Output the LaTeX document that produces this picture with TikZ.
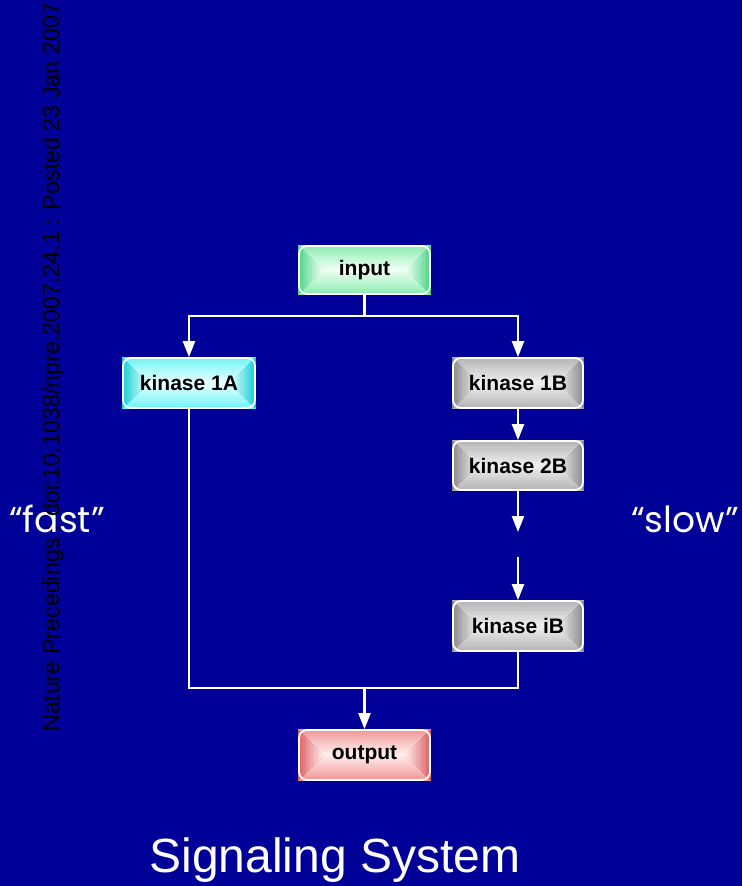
\documentclass[tikz,border=0pt]{standalone}
\usepackage{fontspec}
\setmainfont{Liberation Sans}
\newfontfamily\casualfont{Poppins}
\usetikzlibrary{arrows.meta}

\definecolor{bgblue}{RGB}{0,0,153}
\definecolor{greenside}{RGB}{78,212,136}
\definecolor{greencap}{RGB}{140,236,176}
\definecolor{greenmid}{RGB}{236,255,242}
\definecolor{cyanside}{RGB}{20,206,212}
\definecolor{cyancap}{RGB}{110,244,244}
\definecolor{cyanmid}{RGB}{232,255,255}
\definecolor{grayside}{RGB}{138,138,138}
\definecolor{graycap}{RGB}{180,180,180}
\definecolor{graymid}{RGB}{238,238,238}
\definecolor{redside}{RGB}{222,96,100}
\definecolor{redcap}{RGB}{240,150,150}
\definecolor{redmid}{RGB}{255,236,236}

% #1 name, #2 cx, #3 cy, #4 width, #5 height,
% #6 side colour, #7 top/bottom colour, #8 centre colour, #9 text
\newcommand\gradbox[9]{%
  \pgfmathsetmacro\gbl{#2-#4/2}%
  \pgfmathsetmacro\gbr{#2+#4/2}%
  \pgfmathsetmacro\gbt{#3-#5/2}%
  \pgfmathsetmacro\gbb{#3+#5/2}%
  \pgfmathsetmacro\gbh{#5/2}%
  % top and bottom faces of the bevel
  \foreach \i in {0,...,15}{%
    \pgfmathsetmacro\gbd{\i*#5/32}%
    \pgfmathtruncatemacro\gbp{round(100*\i/15)}%
    \fill[#8!\gbp!#7] (\gbl+\gbd,\gbt+\gbd) rectangle (\gbr-\gbd,\gbb-\gbd);
  }%
  % left and right faces of the bevel
  \begin{scope}
    \clip (\gbl,\gbt) -- (\gbl+\gbh,#3) -- (\gbl,\gbb) -- cycle
          (\gbr,\gbt) -- (\gbr-\gbh,#3) -- (\gbr,\gbb) -- cycle;
    \foreach \i in {0,...,15}{%
      \pgfmathsetmacro\gbd{\i*#5/32}%
      \pgfmathtruncatemacro\gbp{round(100*\i/15)}%
      \fill[#8!\gbp!#6] (\gbl+\gbd,\gbt+\gbd) rectangle (\gbr-\gbd,\gbb-\gbd);
    }%
  \end{scope}
  \node[boxnode, minimum width=#4pt-2pt, minimum height=#5pt-2pt] (#1) at (#2,#3) {#9};
}

\begin{document}
\begin{tikzpicture}[x=1pt,y=-1pt,
  boxnode/.style={draw=white, line width=1.8pt, rounded corners=8pt,
    inner sep=0pt, text=black, font=\bfseries\fontsize{21}{25}\selectfont},
  link/.style={draw=white, line width=2.3pt},
  tip/.style={-{Triangle[length=16pt,width=12pt]}},
  sidenote/.style={anchor=base, text=white, font=\casualfont\fontsize{36}{42}\selectfont},
]
\fill[bgblue] (0,0) rectangle (742,886);
\useasboundingbox (0,0) rectangle (742,886);

% boxes
\gradbox{input}{364.5}{270}{133}{50}{greenside}{greencap}{greenmid}{input}
\gradbox{k1A}{189}{383}{134}{52}{cyanside}{cyancap}{cyanmid}{kinase 1A}
\gradbox{k1B}{518}{383}{132}{52}{grayside}{graycap}{graymid}{kinase 1B}
\gradbox{k2B}{518}{465.5}{132}{51}{grayside}{graycap}{graymid}{kinase 2B}
\gradbox{kiB}{518}{626}{132}{52}{grayside}{graycap}{graymid}{kinase iB}
\gradbox{output}{364.5}{755}{133}{52}{redside}{redcap}{redmid}{output}

% branch points and the gap in the slow chain
\coordinate (split) at (364.5,316);
\coordinate (join) at (364.5,688);
\coordinate (gapA) at (518,532);
\coordinate (gapB) at (518,557);

% connectors
\draw[link] (input.south) -- (split);
\draw[link,tip] (split) -| (k1A.north);
\draw[link,tip] (split) -| (k1B.north);
\draw[link,tip] (k1B.south) -- (k2B.north);
\draw[link,tip] (k2B.south) -- (gapA);
\draw[link,tip] (gapB) -- (kiB.north);
\draw[link] (k1A.south) |- (join);
\draw[link] (kiB.south) |- (join);
\draw[link,tip] (join) -- (output.north);

% side notes and title
\node[sidenote] (fast) at (57,532) {“fast”};
\node[sidenote] (slow) at (685,532) {“slow”};
\node[anchor=base, text=white, font=\fontsize{48}{56}\selectfont] (title) at (335,872) {Signaling System};

% vertical stamp along the left edge
\node[rotate=90, anchor=base, text=black, font=\fontsize{23.3}{26}\selectfont] (stamp) at (59,367)
  {Nature Precedings : doi:10.1038/npre.2007.24.1 : Posted 23 Jan 2007};
\end{tikzpicture}
\end{document}
